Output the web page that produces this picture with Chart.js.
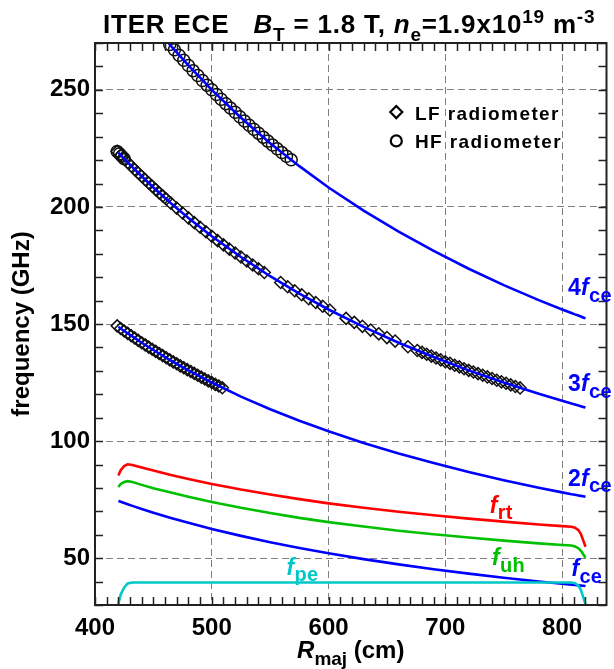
<!DOCTYPE html>
<html>
<head>
<meta charset="utf-8">
<script src="https://cdn.jsdelivr.net/npm/chart.js@4.4.1/dist/chart.umd.min.js"></script>
<style>
  html, body { margin: 0; padding: 0; background: #fff; }
  #wrap { width: 614px; height: 669px; }
</style>
</head>
<body>
<div id="wrap"><canvas id="ece" width="614" height="669"></canvas></div>
<script>
// ITER ECE frequencies vs major radius
const rMaj = [420, 422, 425, 428, 432, 440, 450, 465, 480, 500, 525, 550, 575, 600, 630, 660, 690, 720, 750, 780, 800, 808, 811, 814, 816, 818, 820];

const fce  = [74.4, 74.05, 73.52, 73.01, 72.33, 71.02, 69.44, 67.2, 65.1, 62.5, 59.52, 56.81, 54.34, 52.08, 49.6, 47.35, 45.29, 43.4, 41.66, 40.06, 39.06, 38.67, 38.53, 38.39, 38.29, 38.2, 38.11];
const f2ce = [148.8, 148.1, 147.0, 146.0, 144.7, 142.0, 138.9, 134.4, 130.2, 125.0, 119.0, 113.6, 108.7, 104.2, 99.2, 94.7, 90.6, 86.8, 83.3, 80.1, 78.1, 77.3, 77.1, 76.8, 76.6, 76.4, 76.2];
const f3ce = [223.2, 222.1, 220.6, 219.0, 217.0, 213.1, 208.3, 201.6, 195.3, 187.5, 178.6, 170.4, 163.0, 156.2, 148.8, 142.0, 135.9, 130.2, 125.0, 120.2, 117.2, 116.0, 115.6, 115.2, 114.9, 114.6, 114.3];
const f4ce = [297.6, 296.2, 294.1, 292.0, 289.3, 284.1, 277.8, 268.8, 260.4, 250.0, 238.1, 227.2, 217.4, 208.3, 198.4, 189.4, 181.2, 173.6, 166.6, 160.2, 156.2, 154.7, 154.1, 153.6, 153.2, 152.8, 152.4];
const fRt  = [85.3, 87.6, 89.3, 90.1, 89.8, 88.7, 87.4, 85.5, 83.8, 81.7, 79.3, 77.2, 75.2, 73.4, 71.5, 69.8, 68.3, 66.9, 65.6, 64.4, 63.7, 63.4, 63.0, 62.0, 60.4, 57.7, 54.9];
const fUh  = [80.4, 81.7, 82.5, 82.9, 82.5, 81.3, 79.9, 78.0, 76.2, 74.0, 71.5, 69.3, 67.2, 65.4, 63.5, 61.7, 60.2, 58.8, 57.5, 56.3, 55.6, 55.4, 55.0, 54.2, 53.2, 51.8, 50.2];
const fPe  = [30.5, 34.5, 37.5, 39.2, 39.6, 39.6, 39.6, 39.6, 39.6, 39.6, 39.6, 39.6, 39.6, 39.6, 39.6, 39.6, 39.6, 39.6, 39.6, 39.6, 39.6, 39.6, 39.3, 38.3, 36.5, 33.5, 30.4];

// LF radiometer channels (diamonds)
const lfR = [
  419, 422, 425, 428, 431, 434, 437, 440, 443, 446, 449, 452, 455, 458, 461, 464, 467, 470, 473, 476, 479, 482, 485, 488, 491, 494, 497, 500, 503, 506, 509,
  419, 422, 425, 428, 431, 434, 437, 440, 443, 446, 449, 452, 455, 458, 461,
  465, 470, 475, 480, 485, 490, 495, 500, 505, 510, 515, 520, 525, 530, 535, 540, 545,
  559, 565, 571, 577, 583, 589, 595, 601,
  615, 622, 629, 636, 643, 650, 657, 668,
  676, 680, 684, 688, 692, 696, 700, 704, 708, 712, 716, 720, 724, 728, 732, 736, 740, 744, 748, 752, 756, 760, 764
];
const lfFreq = [
  149.2, 148.1, 147.0, 146.0, 145.0, 144.0, 143.0, 142.0, 141.1, 140.1, 139.2, 138.3, 137.4, 136.5, 135.6, 134.7, 133.8, 133.0, 132.1, 131.3, 130.5, 129.7, 128.9, 128.1, 127.3, 126.5, 125.7, 125.0, 124.2, 123.5, 122.8,
  223.7, 222.1, 220.6, 219.0, 217.5, 216.0, 214.5, 213.1, 211.6, 210.2, 208.8, 207.4, 206.0, 204.7, 203.4,
  201.6, 199.5, 197.4, 195.3, 193.3, 191.3, 189.4, 187.5, 185.6, 183.8, 182.0, 180.3, 178.6, 176.9, 175.2, 173.6, 172.0,
  167.7, 165.9, 164.2, 162.5, 160.8, 159.2, 157.6, 156.0,
  152.4, 150.7, 149.0, 147.4, 145.8, 144.2, 142.7, 140.3,
  138.7, 137.9, 137.1, 136.3, 135.5, 134.7, 133.9, 133.2, 132.4, 131.7, 130.9, 130.2, 129.5, 128.8, 128.1, 127.4, 126.7, 126.0, 125.3, 124.7, 124.0, 123.3, 122.7
];

// HF radiometer channels (circles)
const hfR = [419, 421, 423, 425,
  464, 468, 472, 476, 480, 484, 488, 492, 496, 500, 504, 508, 512, 516, 520, 524, 528, 532, 536, 540, 544, 548, 552, 556, 560, 564, 568];
const hfFreq = [223.7, 222.7, 221.6, 220.6,
  269.4, 267.1, 264.8, 262.6, 260.4, 258.2, 256.1, 254.0, 252.0, 250.0, 248.0, 246.0, 244.1, 242.2, 240.4, 238.5, 236.7, 234.9, 233.2, 231.5, 229.8, 228.1, 226.4, 224.8, 223.2, 221.6, 220.1];

const xTickValues = [400, 500, 600, 700, 800];
const yTickValues = [50, 100, 150, 200, 250];

const BLUE = '#0000ff', RED = '#ff0000', GREEN = '#00c000', CYAN = '#00c8c8';
const FONT = '"Liberation Sans", Arial, Helvetica, sans-serif';

// text placed on the plot, anchored in data coordinates
const curveLabels = [
  { at: [805, 162.5], color: BLUE,  parts: [['4', ''], ['f', 'i'], ['ce', 'sub']] },
  { at: [805, 121.5], color: BLUE,  parts: [['3', ''], ['f', 'i'], ['ce', 'sub']] },
  { at: [805, 81],  color: BLUE,  parts: [['2', ''], ['f', 'i'], ['ce', 'sub']] },
  { at: [738, 69.5],  color: RED,   parts: [['f', 'i'], ['rt', 'sub']] },
  { at: [740, 47], color: GREEN, parts: [['f', 'i'], ['uh', 'sub']] },
  { at: [808, 42.2], color: BLUE,  parts: [['f', 'i'], ['ce', 'sub']] },
  { at: [564, 43], color: CYAN,  parts: [['f', 'i'], ['pe', 'sub']] }
];

function drawRich(ctx, x, y, parts, o) {
  const size = o.size, small = o.small || Math.round(size * 0.78);
  const fontFor = k => (k === 'i' ? 'italic ' : '') + 'bold ' + (k === 'sub' || k === 'sup' ? small : size) + 'px ' + FONT;
  ctx.save();
  ctx.fillStyle = o.color || '#000';
  ctx.textBaseline = 'alphabetic';
  ctx.textAlign = 'left';
  ctx.letterSpacing = (o.spacing || 0) + 'px';
  let w = 0;
  parts.forEach(([t, k]) => { ctx.font = fontFor(k); w += ctx.measureText(t).width; });
  let cx = o.align === 'center' ? x - w / 2 : x;
  parts.forEach(([t, k]) => {
    ctx.font = fontFor(k);
    const dy = k === 'sub' ? size * 0.3 : k === 'sup' ? -size * 0.4 : 0;
    ctx.fillText(t, cx, y + dy);
    cx += ctx.measureText(t).width;
  });
  ctx.restore();
}

const decorations = {
  id: 'decorations',
  afterDatasetsDraw(chart) {
    const { ctx, chartArea: a, scales: { x, y } } = chart;
    ctx.save();
    // frame
    ctx.strokeStyle = '#222';
    ctx.lineWidth = 2;
    ctx.strokeRect(a.left, a.top, a.right - a.left, a.bottom - a.top);
    // minor ticks pointing inward
    ctx.lineWidth = 1.5;
    ctx.beginPath();
    for (let v = 400; v <= x.max; v += 10) {
      const px = Math.round(x.getPixelForValue(v)) + 0.5;
      ctx.moveTo(px, a.bottom); ctx.lineTo(px, a.bottom - 8);
      ctx.moveTo(px, a.top); ctx.lineTo(px, a.top + 8);
    }
    for (let v = 30; v <= y.max; v += 10) {
      const py = Math.round(y.getPixelForValue(v)) + 0.5;
      ctx.moveTo(a.left, py); ctx.lineTo(a.left + 8, py);
      ctx.moveTo(a.right, py); ctx.lineTo(a.right - 8, py);
    }
    ctx.stroke();
    ctx.restore();

    // curve labels
    curveLabels.forEach(l => {
      drawRich(ctx, x.getPixelForValue(l.at[0]), y.getPixelForValue(l.at[1]), l.parts,
        { size: 23, small: 20, color: l.color, spacing: 0.3 });
    });

    // legend
    const lx = x.getPixelForValue(658);
    const ly1 = y.getPixelForValue(240.5), ly2 = y.getPixelForValue(228.2);
    ctx.save();
    ctx.strokeStyle = '#000';
    ctx.lineWidth = 2.2;
    ctx.beginPath();
    ctx.moveTo(lx, ly1 - 6); ctx.lineTo(lx + 6, ly1); ctx.lineTo(lx, ly1 + 6); ctx.lineTo(lx - 6, ly1); ctx.closePath();
    ctx.stroke();
    ctx.beginPath();
    ctx.arc(lx, ly2, 5.5, 0, Math.PI * 2);
    ctx.stroke();
    ctx.restore();
    drawRich(ctx, x.getPixelForValue(674), y.getPixelForValue(237.1), [['LF radiometer', '']], { size: 19, spacing: 1.4 });
    drawRich(ctx, x.getPixelForValue(674), y.getPixelForValue(225.0), [['HF radiometer', '']], { size: 19, spacing: 1.4 });

    // title
    drawRich(ctx, 103, 33, [
      ['ITER ECE   ', ''], ['B', 'i'], ['T', 'sub'], [' = 1.8 T, ', ''], ['n', 'i'], ['e', 'sub'],
      ['=1.9x10', ''], ['19', 'sup'], [' m', ''], ['-3', 'sup']
    ], { size: 26, small: 19, spacing: 0.8 });

    // axis titles
    drawRich(ctx, (a.left + a.right) / 2, 658, [['R', 'i'], ['maj', 'sub'], [' (cm)', '']], { size: 24, small: 19, align: 'center' });
    ctx.save();
    ctx.translate(22, (a.top + a.bottom) / 2);
    ctx.rotate(-Math.PI / 2);
    ctx.font = 'bold 24px ' + FONT;
    ctx.fillStyle = '#000';
    ctx.textAlign = 'center';
    ctx.textBaseline = 'middle';
    ctx.fillText('frequency (GHz)', 0, 0);
    ctx.restore();
  }
};

const curve = (vals, color) => ({
  data: rMaj.map((r, i) => ({ x: r, y: vals[i] })),
  showLine: true,
  borderColor: color,
  borderWidth: 2.6,
  pointRadius: 0,
  tension: 0,
  order: 0
});

const tickFont = { family: FONT, size: 24, weight: 'bold' };

new Chart(document.getElementById('ece'), {
  type: 'scatter',
  data: {
    datasets: [
      curve(fPe, CYAN),
      curve(fce, BLUE),
      curve(fUh, GREEN),
      curve(fRt, RED),
      curve(f2ce, BLUE),
      curve(f3ce, BLUE),
      curve(f4ce, BLUE),
      {
        data: lfR.map((r, i) => ({ x: r, y: lfFreq[i] })),
        pointStyle: 'rectRot',
        pointRadius: 6,
        borderColor: '#111',
        borderWidth: 1.5,
        backgroundColor: 'rgba(0,0,0,0)',
        order: 1
      },
      {
        data: hfR.map((r, i) => ({ x: r, y: hfFreq[i] })),
        pointStyle: 'circle',
        pointRadius: 6,
        borderColor: '#111',
        borderWidth: 1.5,
        backgroundColor: 'rgba(0,0,0,0)',
        order: 1
      }
    ]
  },
  options: {
    responsive: false,
    animation: false,
    devicePixelRatio: 1,
    layout: { padding: { top: 43, right: 3, left: 0, bottom: 0 } },
    plugins: { legend: { display: false }, tooltip: { enabled: false } },
    scales: {
      x: {
        type: 'linear', min: 400, max: 838,
        afterBuildTicks: s => { s.ticks = xTickValues.map(v => ({ value: v })); },
        afterFit: s => { s.height = 64; },
        grid: { color: '#808080', lineWidth: 1, drawTicks: false },
        border: { display: false, dash: [7, 4] },
        ticks: { font: tickFont, color: '#000', padding: 9, maxRotation: 0, autoSkip: false }
      },
      y: {
        type: 'linear', min: 30, max: 270,
        afterBuildTicks: s => { s.ticks = yTickValues.map(v => ({ value: v })); },
        afterFit: s => { s.width = 95; },
        grid: { color: '#808080', lineWidth: 1, drawTicks: false },
        border: { display: false, dash: [7, 4] },
        ticks: { font: tickFont, color: '#000', padding: 5, autoSkip: false }
      }
    }
  },
  plugins: [decorations]
});
</script>
</body>
</html>
